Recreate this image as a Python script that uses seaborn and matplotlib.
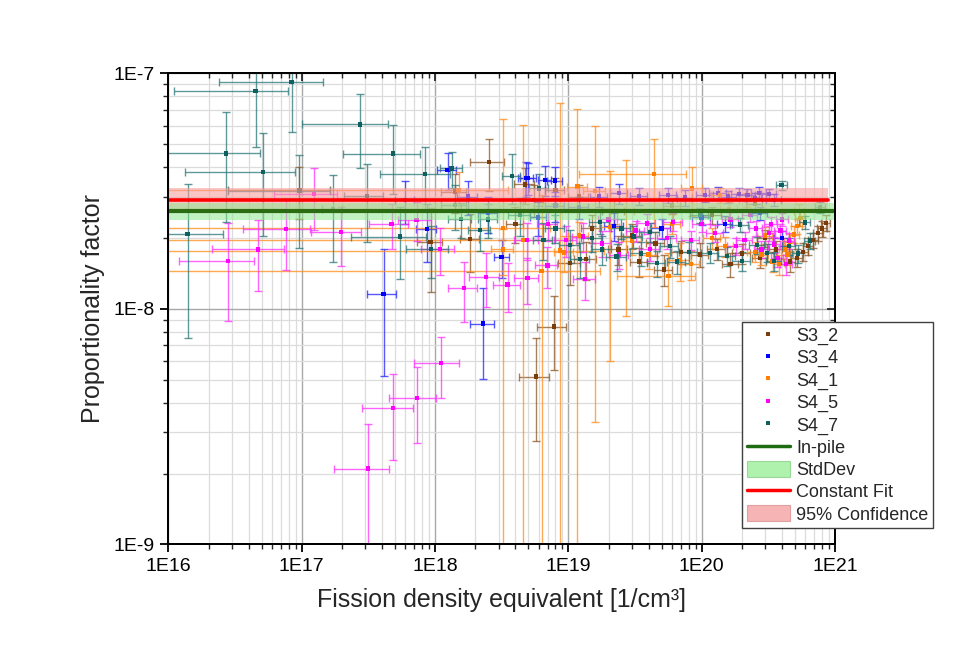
import numpy as np
import pandas as pd
import matplotlib
matplotlib.use("Agg")
import matplotlib.pyplot as plt
import seaborn as sns
from matplotlib.ticker import FixedLocator, LogLocator, FuncFormatter, NullFormatter
from matplotlib.lines import Line2D
from matplotlib.patches import Patch

# ---------------- data ----------------
samples = ["S3_2", "S3_4", "S4_1", "S4_5", "S4_7"]

s32_x = [2.55e18, 7.76e18, 5.71e18, 4.72e18, 9.27e17, 1.83e18, 1.36e19, 1.03e19, 2.37e19, 1.41e18,
         3.4e19, 5.2e19, 9.7e19, 1.64e20, 2.75e20, 3.6e20, 4.6e20, 5.19e20, 5.75e20, 6.27e20,
         6.84e20, 7.45e20, 7.98e20, 8.55e20, 9.6e16, 2.2e19, 1.2e20, 4.0e18,
         1.5e19, 3.0e19, 4.5e19, 7e19, 1.3e20, 2.0e20, 3.0e20, 5.5e18, 8e18, 1.2e19, 6e19, 2.5e20]
s32_xe = [7.2e17, 1.9e18, 1.43e18, 8e17, 2e17, 3e17, 2.5e18, 2e18, 4e18, 3e17,
          5e18, 8e18, 1.4e19, 2.2e19, 3.5e19, 4e19, 4.5e19, 5e19, 5e19, 5.5e19,
          6e19, 6.5e19, 7e19, 7e19, 6.8e16, 4e18, 2e19, 6e17,
          2.5e18, 5e18, 7e18, 1.1e19, 2e19, 3e19, 4e19, 9e17, 1.3e18, 2e18, 9e18, 3.5e19]
s32_y = [4.22e-8, 8.41e-9, 5.16e-9, 3.38e-8, 1.93e-8, 1.98e-8, 1.63e-8, 1.57e-8, 1.79e-8, 3.15e-8,
         1.59e-8, 1.47e-8, 1.7e-8, 1.55e-8, 1.65e-8, 1.79e-8, 1.59e-8, 1.65e-8, 1.75e-8, 1.85e-8,
         1.96e-8, 2.1e-8, 2.2e-8, 2.32e-8, 3.2e-8, 2.6e-8, 2.5e-8, 2.3e-8,
         2.2e-8, 2.05e-8, 1.9e-8, 1.75e-8, 1.8e-8, 1.72e-8, 2.0e-8, 2.9e-8, 3.2e-8, 3.0e-8, 2.75e-8, 2.8e-8]
s32_ye = [1.05e-8, 2.9e-9, 2.4e-9, 0.6e-8, 0.75e-8, 0.55e-8, 0.3e-8, 0.3e-8, 0.25e-8, 0.6e-8,
          0.22e-8, 0.22e-8, 0.2e-8, 0.18e-8, 0.16e-8, 0.16e-8, 0.15e-8, 0.15e-8, 0.15e-8, 0.15e-8,
          0.15e-8, 0.16e-8, 0.17e-8, 0.18e-8, 0.8e-8, 0.3e-8, 0.2e-8, 0.4e-8,
          0.3e-8, 0.25e-8, 0.22e-8, 0.2e-8, 0.18e-8, 0.17e-8, 0.17e-8, 0.45e-8, 0.4e-8, 0.35e-8, 0.22e-8, 0.18e-8]

s34_x = [4.11e17, 2.29e18, 3.16e18, 8.73e17, 5.94e18, 4.79e18, 6.67e18, 7.94e18, 1.24e18, 1.77e18,
         5.0e18, 1.7e19, 2.4e19, 3.4e19, 5.6e19, 7.5e19, 1.06e20, 1.33e20, 1.58e20, 1.9e20,
         2.2e20, 2.7e20, 3.2e20, 1.0e20, 2.75e20, 1.2e19, 5.97e17,
         2.5e20, 3.5e20, 1.5e20, 5e19, 8e18, 2.2e19, 4e20, 2.5e18]
s34_xe = [1.0e17, 4.6e17, 4e17, 1.5e17, 8e17, 6e17, 8e17, 1e18, 2e17, 3e17,
          7e17, 2.5e18, 3.5e18, 5e18, 8e18, 1e19, 1.5e19, 2e19, 2.2e19, 2.5e19,
          3e19, 3.5e19, 4e19, 1.5e19, 3.5e19, 2e18, 1e17,
          3.5e19, 4.5e19, 2e19, 8e18, 1.3e18, 3.5e18, 5e19, 4e17]
s34_y = [1.16e-8, 8.66e-9, 1.66e-8, 2.19e-8, 2.45e-8, 3.59e-8, 3.53e-8, 3.51e-8, 3.9e-8, 3.0e-8,
         3.6e-8, 3.0e-8, 3.1e-8, 3.02e-8, 3.05e-8, 2.97e-8, 3.05e-8, 3.1e-8, 3.0e-8, 3.08e-8,
         3.04e-8, 3.1e-8, 3.07e-8, 2.45e-8, 2.55e-8, 2.7e-8, 2.9e-8,
         2.95e-8, 2.9e-8, 2.3e-8, 2.2e-8, 2.75e-8, 2.25e-8, 2.0e-8, 2.55e-8]
s34_ye = [0.64e-8, 3.6e-9, 0.3e-8, 0.6e-8, 0.4e-8, 0.6e-8, 0.5e-8, 0.5e-8, 0.7e-8, 0.5e-8,
          0.55e-8, 0.3e-8, 0.3e-8, 0.25e-8, 0.22e-8, 0.22e-8, 0.2e-8, 0.2e-8, 0.18e-8, 0.18e-8,
          0.18e-8, 0.18e-8, 0.17e-8, 0.18e-8, 0.16e-8, 0.3e-8, 0.6e-8,
          0.17e-8, 0.17e-8, 0.18e-8, 0.22e-8, 0.4e-8, 0.3e-8, 0.15e-8, 0.45e-8]

s41_x = [3.24e18, 4.57e18, 6.3e18, 8.65e18, 1.17e19, 1.58e19, 2.05e19, 2.7e19, 4.4e19, 8.5e19,
         5.62e19, 6.88e19, 3.24e18, 9.27e18, 1.5e18, 4.2e20, 4.6e20, 4.95e20, 5.2e20, 5.5e20,
         3.4e20, 8.3e19, 1.37e20, 2.2e20, 1.2e20, 2.5e20, 3.0e19,
         1.5e20, 2.8e20, 3.8e20, 4.4e20, 5.4e20, 6e19, 1.6e20, 4e19, 1.2e19, 3e20]
s41_xe = [4.0e18, 6.0e18, 1.1e19, 1.0e19, 2e18, 3e18, 3.5e18, 4e18, 3.2e19, 1.5e19,
          3.3e19, 1.2e19, 6e17, 1.5e18, 2.0e18, 4e19, 4.5e19, 4.5e19, 5e19, 5e19,
          3.5e19, 1.3e19, 2e19, 3e19, 1.8e19, 3e19, 5e18,
          2.2e19, 3.5e19, 4e19, 4.5e19, 5e19, 9e18, 2.3e19, 6e18, 2e18, 3.8e19]
s41_y = [2.21e-8, 1.96e-8, 1.45e-8, 1.77e-8, 3.31e-8, 3.16e-8, 2.23e-8, 2.6e-8, 3.74e-8, 3.25e-8,
         1.38e-8, 1.61e-8, 1.79e-8, 1.74e-8, 3.2e-8, 1.79e-8, 1.92e-8, 2.07e-8, 2.25e-8, 2.43e-8,
         1.59e-8, 1.55e-8, 3.05e-8, 2.9e-8, 2.0e-8, 1.75e-8, 1.95e-8,
         1.85e-8, 1.7e-8, 1.55e-8, 1.7e-8, 2.6e-8, 2.3e-8, 2.65e-8, 1.7e-8, 2.05e-8, 2.05e-8]
s41_ye = [4.2e-8, 4.1e-8, 1.6e-8, 5.7e-8, 3.75e-8, 2.83e-8, 1.63e-8, 1.67e-8, 1.52e-8, 0.77e-8,
          0.35e-8, 0.3e-8, 0.4e-8, 0.3e-8, 0.6e-8, 0.16e-8, 0.16e-8, 0.17e-8, 0.17e-8, 0.18e-8,
          0.16e-8, 0.22e-8, 0.22e-8, 0.2e-8, 0.2e-8, 0.17e-8, 0.25e-8,
          0.18e-8, 0.16e-8, 0.15e-8, 0.16e-8, 0.18e-8, 0.22e-8, 0.2e-8, 0.22e-8, 0.3e-8, 0.17e-8]

s45_x = [2.81e16, 4.72e16, 7.6e16, 1.23e17, 1.97e17, 3.14e17, 4.85e17, 7.31e17, 1.107e18, 4.72e17,
         7.28e17, 1.09e18, 1.65e18, 2.4e18, 3.5e18, 4.92e18, 4.9e18, 6.95e18, 9.6e18, 1.29e19,
         1.33e19, 1.78e19, 2.4e19, 3.87e19, 4.09e19, 6.12e19, 8.3e19, 1.0e20, 1.26e20, 1.64e20,
         2.1e20, 2.55e20, 2.8e20, 3.2e20, 3.5e20, 3.7e20, 4.0e20, 4.3e20,
         4.5e20, 3.9e20, 3.3e20, 2.3e20, 1.8e20, 5.5e19, 3.2e19, 2.0e19, 7e18]
s45_xe = [1.6e16, 2.6e16, 4.0e16, 6.1e16, 8e16, 1.39e17, 2.0e17, 2.8e17, 4.1e17, 1.5e17,
          2.0e17, 3e17, 4e17, 6e17, 8e17, 1.0e18, 1.0e18, 1.3e18, 1.8e18, 2.2e18,
          2.5e18, 3e18, 4e18, 6e18, 7e18, 1e19, 1.3e19, 1.5e19, 1.8e19, 2.2e19,
          2.8e19, 3e19, 3.2e19, 3.5e19, 3.8e19, 4e19, 4.2e19, 4.5e19,
          4.6e19, 4.2e19, 3.8e19, 3e19, 2.5e19, 9e18, 5e18, 3.2e18, 1.2e18]
s45_y = [1.6e-8, 1.79e-8, 2.19e-8, 3.07e-8, 2.12e-8, 2.1e-9, 3.79e-9, 4.18e-9, 5.88e-9, 2.29e-8,
         2.39e-8, 1.8e-8, 1.23e-8, 1.37e-8, 1.27e-8, 1.35e-8, 1.96e-8, 1.53e-8, 1.96e-8, 2.03e-8,
         1.34e-8, 1.9e-8, 1.7e-8, 2.31e-8, 1.8e-8, 2.35e-8, 1.96e-8, 2.3e-8, 2.1e-8, 2.4e-8,
         1.96e-8, 2.2e-8, 1.79e-8, 2.1e-8, 1.88e-8, 1.65e-8, 2.4e-8, 1.55e-8,
         1.95e-8, 2.15e-8, 2.3e-8, 2.5e-8, 1.85e-8, 2.0e-8, 2.15e-8, 2.4e-8, 2.3e-8]
s45_ye = [0.71e-8, 0.6e-8, 0.73e-8, 0.9e-8, 0.6e-8, 1.14e-9, 1.5e-9, 1.47e-9, 1.7e-9, 0.5e-8,
          0.45e-8, 0.4e-8, 0.35e-8, 0.35e-8, 0.3e-8, 0.3e-8, 0.35e-8, 0.3e-8, 0.3e-8, 0.28e-8,
          0.25e-8, 0.24e-8, 0.22e-8, 0.22e-8, 0.2e-8, 0.2e-8, 0.18e-8, 0.18e-8, 0.17e-8, 0.17e-8,
          0.16e-8, 0.16e-8, 0.15e-8, 0.15e-8, 0.15e-8, 0.15e-8, 0.15e-8, 0.15e-8,
          0.15e-8, 0.15e-8, 0.15e-8, 0.16e-8, 0.16e-8, 0.2e-8, 0.22e-8, 0.25e-8, 0.35e-8]

s47_x = [1.39e16, 2.7e16, 4.5e16, 5.14e16, 8.4e16, 9.6e16, 1.72e17, 2.74e17, 3.07e17, 4.85e17,
         5.46e17, 8.36e17, 9.3e17, 1.33e18, 1.56e18, 3.76e18, 6.05e18, 6.5e18, 1.03e19, 1.22e19,
         1.78e19, 2.3e19, 3.07e19, 4.6e19, 5.78e19, 6.5e19, 1.15e20, 1.55e20, 2.6e20, 3.09e20,
         3.98e20, 5.27e20, 1.41e18, 2.17e18, 4.34e18, 1.73e19, 4.09e19, 9.7e19, 1.94e20, 5.96e20,
         7.7e20, 2.0e20, 3.5e20, 4.5e20, 6.5e20, 8e19, 3.5e19, 2.5e19, 1.5e19, 2.5e18, 8e18]
s47_xe = [1.16e16, 2.15e16, 3.4e16, 3.8e16, 6.0e16, 6.8e16, 3.0e16, 1.73e17, 1.0e17, 2.8e17,
          3.1e17, 4.5e17, 3.2e17, 2.5e17, 3.0e17, 6e17, 1.0e18, 1.1e18, 1.8e18, 2.0e18,
          3e18, 4e18, 5e18, 7e18, 9e18, 1e19, 1.7e19, 2.2e19, 3.4e19, 3.8e19,
          4e19, 5e19, 3e17, 4e17, 8e17, 3e18, 7e18, 1.5e19, 3e19, 5.5e19,
          6.5e19, 3e19, 4.5e19, 5e19, 6e19, 1.2e19, 6e18, 4e18, 2.5e18, 4e17, 1.3e18]
s47_y = [2.08e-8, 4.58e-8, 8.43e-8, 3.81e-8, 9.2e-8, 3.17e-8, 2.65e-8, 6.08e-8, 3.02e-8, 4.57e-8,
         2.03e-8, 3.75e-8, 1.8e-8, 3.95e-8, 2.41e-8, 3.67e-8, 3.25e-8, 1.96e-8, 1.87e-8, 1.63e-8,
         1.79e-8, 1.67e-8, 2.03e-8, 1.57e-8, 1.85e-8, 1.59e-8, 1.73e-8, 1.68e-8, 1.87e-8, 1.73e-8,
         3.36e-8, 1.72e-8, 2.77e-8, 2.17e-8, 2.5e-8, 2.34e-8, 2.12e-8, 2.5e-8, 2.28e-8, 2.33e-8,
         2.7e-8, 1.6e-8, 1.6e-8, 1.85e-8, 1.95e-8, 1.75e-8, 1.72e-8, 2.2e-8, 2.0e-8, 2.4e-8, 2.2e-8]
s47_ye = [1.33e-8, 2.25e-8, 3.55e-8, 1.76e-8, 3.55e-8, 1.35e-8, 1.06e-8, 2.1e-8, 1.1e-8, 1.5e-8,
          0.69e-8, 1.14e-8, 0.45e-8, 0.7e-8, 0.4e-8, 0.87e-8, 0.5e-8, 0.35e-8, 0.3e-8, 0.28e-8,
          0.25e-8, 0.22e-8, 0.22e-8, 0.2e-8, 0.2e-8, 0.18e-8, 0.17e-8, 0.16e-8, 0.16e-8, 0.15e-8,
          0.15e-8, 0.15e-8, 0.6e-8, 0.4e-8, 0.45e-8, 0.25e-8, 0.2e-8, 0.18e-8, 0.16e-8, 0.15e-8,
          0.15e-8, 0.15e-8, 0.15e-8, 0.15e-8, 0.15e-8, 0.18e-8, 0.2e-8, 0.22e-8, 0.25e-8, 0.4e-8, 0.3e-8]

inpile_value = 2.6e-8
inpile_std = 0.22e-8
fit_value = 2.9e-8
fit_ci_low = 2.6e-8
fit_ci_high = 3.25e-8
fit_x_range = [1e16, 8.9e20]
inpile_x_range = [1e16, 1e21]

x_major = [1e16, 1e17, 1e18, 1e19, 1e20, 1e21]
y_major = [1e-9, 1e-8, 1e-7]
x_label = "Fission density equivalent [1/cm³]"
y_label = "Proportionality factor"
legend_labels = ["S3_2", "S3_4", "S4_1", "S4_5", "S4_7", "In-pile", "StdDev",
                 "Constant Fit", "95% Confidence"]

# ---------------- styling ----------------
colors = {"S3_2": "#7a3d0a", "S3_4": "#0000ff", "S4_1": "#ff7f00",
          "S4_5": "#ff00ff", "S4_7": "#0e5f5f"}
bar_colors = {"S3_2": "#8a5525", "S3_4": "#2020ff", "S4_1": "#ff8c1a",
              "S4_5": "#ff30ff", "S4_7": "#2a7676"}

sns.set_theme(style="white")
plt.rcParams["font.family"] = ["Liberation Sans", "DejaVu Sans"]

series = {
    "S3_2": (s32_x, s32_xe, s32_y, s32_ye),
    "S3_4": (s34_x, s34_xe, s34_y, s34_ye),
    "S4_1": (s41_x, s41_xe, s41_y, s41_ye),
    "S4_5": (s45_x, s45_xe, s45_y, s45_ye),
    "S4_7": (s47_x, s47_xe, s47_y, s47_ye),
}
frames = []
for name, (xs, xes, ys, yes) in series.items():
    frames.append(pd.DataFrame({"sample": name, "x": xs, "xerr": xes, "y": ys, "yerr": yes}))
df = pd.concat(frames, ignore_index=True)

fig = plt.figure(figsize=(9.67, 6.53), dpi=100)
fig.patch.set_facecolor("white")
ax = fig.add_axes([0.1742, 0.1662, 0.6893, 0.7213])
ax.set_xscale("log")
ax.set_yscale("log")
ax.set_xlim(1e16, 1e21)
ax.set_ylim(1e-9, 1e-7)

# grid
ax.set_axisbelow(True)
ax.grid(True, which="major", color="#a8a8a8", linewidth=1.0, zorder=0)
ax.grid(True, which="minor", color="#dcdcdc", linewidth=0.9, zorder=0)

# error bars
for name in samples:
    sub = df[df["sample"] == name]
    ax.errorbar(sub["x"], sub["y"], xerr=sub["xerr"], yerr=sub["yerr"], fmt="none",
                ecolor=bar_colors[name], elinewidth=1.0, capsize=3, capthick=1.0,
                alpha=0.75, zorder=2)

sns.scatterplot(data=df, x="x", y="y", hue="sample", palette=colors, marker="s",
                s=10, linewidth=0, ax=ax, legend=False, zorder=3)

# bands and lines
ax.fill_between(fit_x_range, fit_ci_low, fit_ci_high, color="#f7a0a0", alpha=0.6,
                linewidth=0, zorder=4)
ax.fill_between(inpile_x_range, inpile_value - inpile_std, inpile_value + inpile_std,
                color="#8ee88e", alpha=0.55, linewidth=0, zorder=4)
ax.plot(inpile_x_range, [inpile_value, inpile_value], color="#2b6b12", linewidth=3, zorder=5)
ax.plot(fit_x_range, [fit_value, fit_value], color="#ff0000", linewidth=2.6, zorder=6)

# ticks
fmt = FuncFormatter(lambda v, p: "1E%d" % int(round(np.log10(v))))
ax.xaxis.set_major_locator(FixedLocator(x_major))
ax.yaxis.set_major_locator(FixedLocator(y_major))
ax.xaxis.set_minor_locator(LogLocator(base=10, subs=np.arange(2, 10), numticks=50))
ax.yaxis.set_minor_locator(LogLocator(base=10, subs=np.arange(2, 10), numticks=50))
ax.xaxis.set_major_formatter(fmt)
ax.yaxis.set_major_formatter(fmt)
ax.xaxis.set_minor_formatter(NullFormatter())
ax.yaxis.set_minor_formatter(NullFormatter())
ax.tick_params(which="major", direction="out", length=6, width=1.3, labelsize=14,
               colors="black", pad=4, bottom=True, left=True, top=False, right=False)
ax.tick_params(which="minor", direction="out", length=3.5, width=1.0,
               bottom=True, left=True, top=False, right=False)
for s in ax.spines.values():
    s.set_linewidth(1.4)
    s.set_color("black")
ax.set_xlabel(x_label, fontsize=18, labelpad=9)
ax.set_ylabel(y_label, fontsize=18, labelpad=6)

# mirrored top / right axes with inward ticks
axr = ax.twinx()
axr.set_yscale("log")
axr.set_ylim(1e-9, 1e-7)
axr.yaxis.set_major_locator(FixedLocator(y_major))
axr.yaxis.set_minor_locator(LogLocator(base=10, subs=np.arange(2, 10), numticks=50))
axr.tick_params(axis="y", which="major", direction="in", length=6, width=1.3, labelright=False)
axr.tick_params(axis="y", which="minor", direction="in", length=3.5, width=1.0, labelright=False)
axr.grid(False)
axt = ax.twiny()
axt.set_xscale("log")
axt.set_xlim(1e16, 1e21)
axt.xaxis.set_major_locator(FixedLocator(x_major))
axt.xaxis.set_minor_locator(LogLocator(base=10, subs=np.arange(2, 10), numticks=50))
axt.tick_params(axis="x", which="major", direction="in", length=6, width=1.3, labeltop=False)
axt.tick_params(axis="x", which="minor", direction="in", length=3.5, width=1.0, labeltop=False)
axt.grid(False)
for a in (axr, axt):
    for s in a.spines.values():
        s.set_linewidth(1.4)
        s.set_color("black")

# legend
handles = [Line2D([], [], linestyle="none", marker="s", markersize=2.5,
                  markerfacecolor=colors[n], markeredgewidth=0) for n in samples]
handles += [Line2D([], [], color="#1f6b14", linewidth=2.5),
            Patch(facecolor="#aef2ae", edgecolor="#9ad89a", linewidth=0.8),
            Line2D([], [], color="#ff0000", linewidth=2.5),
            Patch(facecolor="#f7b4b4", edgecolor="#e0a0a0", linewidth=0.8)]
leg = axt.legend(handles, legend_labels, loc="upper left", bbox_to_anchor=(0.8605, 0.4724),
                 borderaxespad=0, fontsize=13, frameon=True, fancybox=False, framealpha=1,
                 edgecolor="#404040", borderpad=0.25, labelspacing=0.22, handlelength=2.4,
                 handleheight=1.0, handletextpad=0.35)
leg.get_frame().set_linewidth(1.0)
leg.set_zorder(20)

fig.savefig("out.png", dpi=100, facecolor="white")
